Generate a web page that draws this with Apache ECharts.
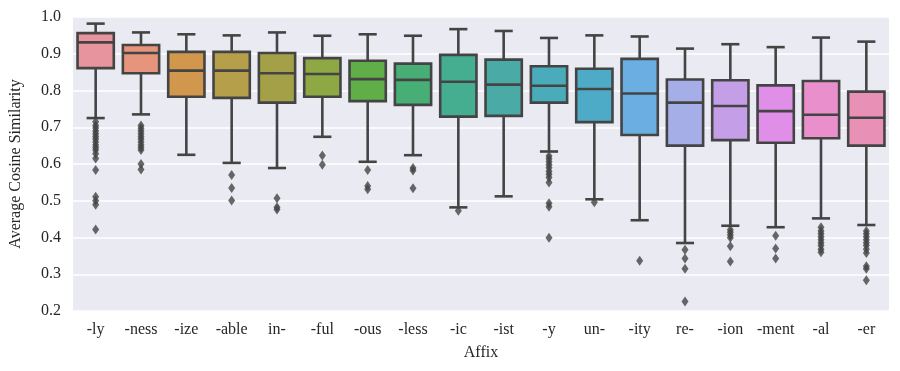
<!DOCTYPE html>
<html>
<head>
<meta charset="utf-8">
<script src="https://cdn.jsdelivr.net/npm/echarts@6/dist/echarts.min.js"></script>
<style>
  html, body { margin: 0; padding: 0; background: #fff; }
  #chart { width: 900px; height: 371px; }
</style>
</head>
<body>
<div id="chart"></div>
<script>
// affixes, in plotted order
var affixes = ['-ly', '-ness', '-ize', '-able', 'in-', '-ful', '-ous', '-less', '-ic', '-ist', '-y', 'un-', '-ity', 're-', '-ion', '-ment', '-al', '-er'];

// box statistics
var whiskerLow  = [0.725, 0.735, 0.625, 0.603, 0.589, 0.674, 0.606, 0.624, 0.482, 0.512, 0.634, 0.504, 0.447, 0.385, 0.432, 0.428, 0.452, 0.434];
var q1          = [0.861, 0.847, 0.783, 0.780, 0.767, 0.783, 0.771, 0.761, 0.729, 0.731, 0.767, 0.714, 0.679, 0.650, 0.665, 0.658, 0.670, 0.650];
var medians     = [0.931, 0.902, 0.854, 0.854, 0.847, 0.845, 0.831, 0.829, 0.824, 0.816, 0.813, 0.804, 0.792, 0.767, 0.758, 0.744, 0.734, 0.726];
var q3          = [0.956, 0.924, 0.905, 0.905, 0.902, 0.888, 0.881, 0.873, 0.897, 0.884, 0.866, 0.859, 0.886, 0.830, 0.828, 0.814, 0.826, 0.797];
var whiskerHigh = [0.982, 0.958, 0.953, 0.950, 0.958, 0.949, 0.953, 0.949, 0.967, 0.962, 0.943, 0.950, 0.947, 0.914, 0.926, 0.918, 0.944, 0.933];

// outlier points per affix
var outliers = [
  [0.715, 0.705, 0.698, 0.69, 0.682, 0.675, 0.668, 0.66, 0.652, 0.645, 0.638, 0.628, 0.615, 0.584, 0.511, 0.50, 0.489, 0.422],
  [0.705, 0.697, 0.69, 0.682, 0.675, 0.668, 0.66, 0.652, 0.645, 0.638, 0.60, 0.585],
  [],
  [0.570, 0.535, 0.501],
  [0.507, 0.482, 0.476],
  [0.623, 0.598],
  [0.584, 0.540, 0.531],
  [0.589, 0.582, 0.534],
  [0.473],
  [],
  [0.622, 0.614, 0.606, 0.598, 0.59, 0.58, 0.572, 0.563, 0.55, 0.493, 0.484, 0.399],
  [0.496],
  [0.337],
  [0.367, 0.343, 0.315, 0.226],
  [0.421, 0.414, 0.407, 0.399, 0.376, 0.335],
  [0.405, 0.370, 0.343],
  [0.428, 0.418, 0.41, 0.402, 0.394, 0.386, 0.378, 0.368, 0.36],
  [0.418, 0.41, 0.402, 0.394, 0.386, 0.378, 0.368, 0.358, 0.322, 0.315, 0.284]
];

var boxColors = ['#e8949f', '#e7947d', '#d0974d', '#b69f4a', '#a4a048', '#8ea844', '#5fae48', '#47ae76', '#45ad90',
                 '#49aaa6', '#4aabba', '#4eabc8', '#6aaee2', '#a5aee6', '#c59ee8', '#df8fe8', '#e98fcb', '#e890b6'];

var edge = '#444444';
var serif = "'Liberation Serif', 'DejaVu Serif', serif";

var boxData = affixes.map(function (a, i) {
  return [i, whiskerLow[i], q1[i], medians[i], q3[i], whiskerHigh[i]];
});
var outlierData = [];
outliers.forEach(function (list, i) {
  list.forEach(function (v) { outlierData.push([i, v]); });
});

function renderBox(params, api) {
  var i = api.value(0);
  var band = api.size([1, 0])[0];
  var half = band * 0.4;
  var lo = api.coord([i, api.value(1)]);
  var b1 = api.coord([i, api.value(2)]);
  var md = api.coord([i, api.value(3)]);
  var b3 = api.coord([i, api.value(4)]);
  var hi = api.coord([i, api.value(5)]);
  var x = lo[0];
  var ls = { stroke: edge, lineWidth: 2.6 };
  return {
    type: 'group',
    children: [
      { type: 'line', shape: { x1: x, y1: lo[1], x2: x, y2: b1[1] }, style: ls },
      { type: 'line', shape: { x1: x, y1: b3[1], x2: x, y2: hi[1] }, style: ls },
      { type: 'line', shape: { x1: x - half / 2, y1: lo[1], x2: x + half / 2, y2: lo[1] }, style: ls },
      { type: 'line', shape: { x1: x - half / 2, y1: hi[1], x2: x + half / 2, y2: hi[1] }, style: ls },
      { type: 'rect', shape: { x: x - half, y: b3[1], width: half * 2, height: b1[1] - b3[1] },
        style: { fill: boxColors[params.dataIndex], stroke: edge, lineWidth: 2.6 } },
      { type: 'line', shape: { x1: x - half, y1: md[1], x2: x + half, y2: md[1] }, style: ls }
    ]
  };
}

var myChart = echarts.init(document.getElementById('chart'));
var option = {
  animation: false,
  textStyle: { fontFamily: serif },
  grid: { left: 67, right: 11, top: 17, bottom: 60, show: true, backgroundColor: '#eaeaf2', borderWidth: 0 },
  xAxis: {
    type: 'category',
    data: affixes,
    name: 'Affix',
    nameLocation: 'middle',
    nameGap: 34,
    nameTextStyle: { fontFamily: serif, fontSize: 16, color: '#262626' },
    axisLine: { show: false },
    axisTick: { show: false },
    axisLabel: { fontFamily: serif, fontSize: 16, color: '#262626', margin: 11, interval: 0 },
    splitLine: { show: false }
  },
  yAxis: {
    type: 'value',
    min: 0.2,
    max: 1.0,
    interval: 0.1,
    name: 'Average Cosine Similarity',
    nameLocation: 'middle',
    nameGap: 49,
    nameTextStyle: { fontFamily: serif, fontSize: 16, color: '#262626' },
    axisLine: { show: false },
    axisTick: { show: false },
    axisLabel: { fontFamily: serif, fontSize: 16, color: '#262626', margin: 12,
      formatter: function (v) { return v.toFixed(1); } },
    splitLine: { lineStyle: { color: '#ffffff', width: 1.5 } }
  },
  series: [
    {
      type: 'custom',
      renderItem: renderBox,
      data: boxData,
      encode: { x: 0, y: [1, 2, 3, 4, 5] },
      z: 2
    },
    {
      type: 'scatter',
      data: outlierData,
      symbol: 'diamond',
      symbolSize: [7, 10],
      itemStyle: { color: edge },
      z: 3
    }
  ]
};
myChart.setOption(option);
</script>
</body>
</html>
